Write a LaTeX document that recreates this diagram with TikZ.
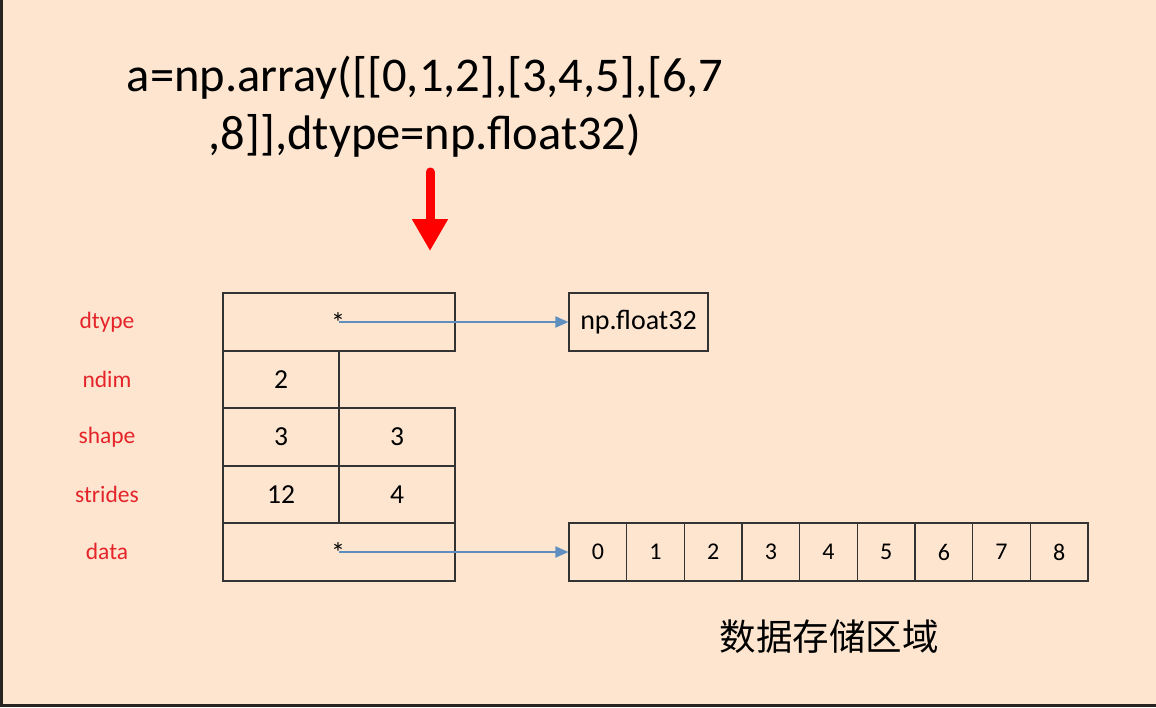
\documentclass[tikz,border=0pt]{standalone}
\usepackage{fontspec}
\setmainfont{Carlito}
\newfontfamily\cjk{Noto Sans CJK SC}
\usetikzlibrary{arrows.meta}
\definecolor{bg}{HTML}{FDE5D0}
\definecolor{frame}{HTML}{2A2420}
\definecolor{lab}{HTML}{E5242A}
\definecolor{ptr}{HTML}{5E8FBF}
\definecolor{ink}{HTML}{333333}
\begin{document}
\begin{tikzpicture}[x=1pt,y=-1pt,
  cell/.style={draw=ink, line width=1.1pt, minimum height=58pt, inner sep=0pt, font=\fontsize{27.5}{32}\selectfont},
  acell/.style={draw=ink, line width=1.1pt, minimum width=57.67pt, minimum height=58pt, inner sep=0pt, font=\fontsize{24}{28}\selectfont},
  lbl/.style={text=lab, font=\fontsize{23.5}{28}\selectfont, inner sep=0pt},
  ptrarrow/.style={draw=ptr, line width=1.8pt, -{Triangle[width=11pt,length=13pt]}},
  star/.style={font=\fontsize{28}{32}\selectfont, inner sep=0pt, anchor=base}]
\useasboundingbox (0,0) rectangle (1156,707);
\fill[bg] (0,0) rectangle (1156,707);
\draw[frame, line width=3pt] (1.5,0) -- (1.5,705.5) -- (1156,705.5);

% title
\node[font=\fontsize{48.5}{58}\selectfont, align=center, inner sep=0pt] (title) at (425,107)
  {a=np.array([[0,1,2],[3,4,5],[6,7\\,8]],dtype=np.float32)};

% red arrow
\coordinate (ra) at (430,172);
\coordinate (rb) at (430,251);
\draw[red, line width=9pt, line cap=round, -{Triangle[width=34pt,length=32pt]}] (ra) -- (rb);

% labels
\node[lbl] (ldtype) at (107,322) {dtype};
\node[lbl] (lndim) at (107,379) {ndim};
\node[lbl] (lshape) at (107,437) {shape};
\node[lbl] (lstrides) at (107,494) {strides};
\node[lbl] (ldata) at (107,551) {data};

% structure table
\node[cell, minimum width=232pt] (dtype) at (339,322) {};
\node[cell, minimum width=116pt, minimum height=57pt] (ndim) at (281,379.5) {2};
\node[cell, minimum width=116pt] (shapeA) at (281,437) {3};
\node[cell, minimum width=116pt] (shapeB) at (397,437) {3};
\node[cell, minimum width=116pt, minimum height=57pt] (stridesA) at (281,494.5) {12};
\node[cell, minimum width=116pt, minimum height=57pt] (stridesB) at (397,494.5) {4};
\node[cell, minimum width=232pt] (data) at (339,552) {};

% pointer stars
\node[star] (s1) at (338,332) {*};
\node[star] (s2) at (338,562) {*};
\coordinate (p1) at (339,322);
\coordinate (p2) at (339,552);

% dtype box
\node[cell, minimum width=139pt, font=\fontsize{28}{32}\selectfont] (ft) at (638.5,322) {np.float32};

% data array
\foreach \i in {0,...,8}{
  \node[acell] (a\i) at ({569+28.835+\i*57.67},552) {\i};
}

\draw[ptrarrow] (p1) -- (ft.west);
\draw[ptrarrow] (p2) -- (a0.west);

\node[font=\cjk\fontsize{36.5}{40}\selectfont, inner sep=0pt] (cap) at (829,637) {数据存储区域};
\end{tikzpicture}
\end{document}
